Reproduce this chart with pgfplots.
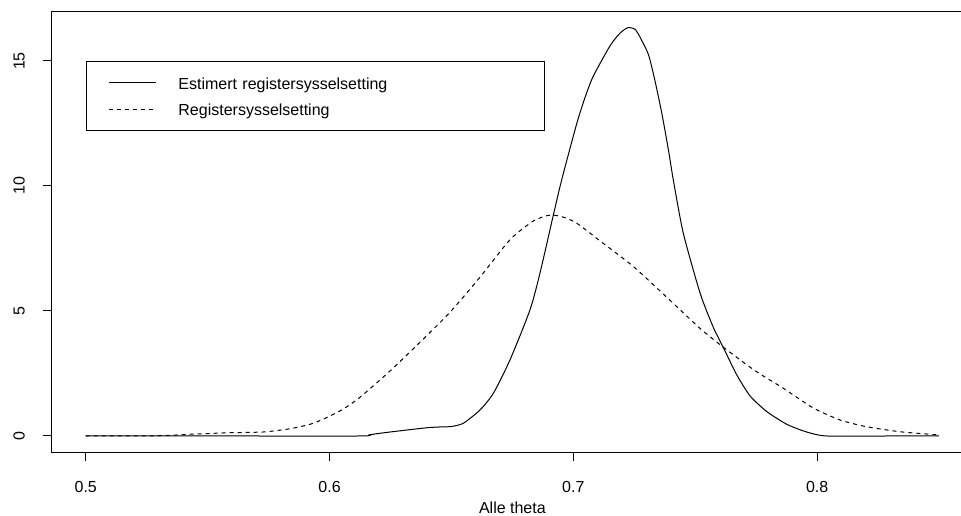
\documentclass[border=0pt]{standalone}
\usepackage{fontspec}
\setmainfont{Liberation Sans}
\usepackage{pgfplots}
\pgfplotsset{compat=1.18}

\begin{document}
\fontsize{12}{14.4}\selectfont
\begin{tikzpicture}
\begin{axis}[
  name=ax,
  scale only axis,
  width=691.2pt, height=331.0pt,
  xmin=0.486, xmax=0.864,
  ymin=-0.654, ymax=17.0,
  axis line style={line width=0.75pt},
  every tick/.style={line width=0.75pt, black},
  tick align=outside,
  major tick length=6.75pt,
  xtick pos=lower, ytick pos=left,
  xtick={0.5,0.6,0.7,0.8}, xticklabels={0.5,0.6,0.7,0.8},
  ytick={0,5,10,15}, yticklabels={0,5,10,15},
  xticklabel style={anchor=base, yshift=-23.25pt},
  yticklabel style={xshift=-13.5pt, rotate=90, anchor=base},
  xlabel={Alle theta},
  xlabel style={at={(axis description cs:0.5,0)}, anchor=base, yshift=-45.5pt},
  legend style={at={(axis cs:0.5,15)}, anchor=north west, draw=black,
    line width=0.75pt, inner xsep=16.7pt, inner ysep=10pt,
    row sep=8pt, column sep=16.7pt,
    nodes={inner sep=0pt, text height=10.7pt, text depth=1.3pt, text width=257.7pt, align=left},
    cells={anchor=base west}},
  legend image code/.code={
    \draw[#1] (0pt,5pt) -- (35pt,5pt);
  },
]
% estimert (heltrukken)
\addplot[black, line width=0.75pt, smooth, tension=0.4] coordinates {
(0.500,0) (0.560,0) (0.6125,0) (0.616,0.04) (0.620,0.10) (0.630,0.22)
(0.640,0.33) (0.645,0.36) (0.650,0.38) (0.6549,0.51) (0.6617,1.04)
(0.6672,1.71) (0.6740,3.04)
(0.6822,5.04) (0.6863,6.51) (0.6918,8.84) (0.6952,10.24) (0.7014,12.50)
(0.7050,13.60) (0.7082,14.40) (0.7150,15.60) (0.7190,16.10) (0.7223,16.33)
(0.7255,16.25) (0.7287,15.70) (0.7310,15.20) (0.7335,14.20) (0.7363,12.90)
(0.7390,11.44) (0.7410,10.24) (0.7451,8.11) (0.7520,5.71) (0.7574,4.35)
(0.7622,3.40) (0.7670,2.45) (0.7725,1.60) (0.7793,0.98) (0.7875,0.47)
(0.7957,0.16) (0.8040,0) (0.830,0) (0.850,0)};
\addlegendentry{Estimert registersysselsetting}
% register (stiplet)
\addplot[black, line width=0.75pt, dash pattern=on 3pt off 3pt, smooth, tension=0.4] coordinates {
(0.500,0) (0.530,0.01) (0.5428,0.07) (0.5592,0.13) (0.5729,0.16)
(0.5824,0.27) (0.5879,0.37) (0.5934,0.51) (0.6002,0.80) (0.6060,1.10)
(0.6125,1.55) (0.6248,2.60) (0.6371,3.75) (0.6494,4.95) (0.6617,6.35)
(0.6740,7.85) (0.6836,8.60) (0.6905,8.84) (0.6960,8.75) (0.7014,8.51)
(0.7110,7.80) (0.7246,6.78) (0.7383,5.55) (0.7520,4.30) (0.7622,3.50)
(0.7725,2.75) (0.7779,2.40) (0.7861,1.91) (0.7984,1.12) (0.8094,0.64)
(0.8203,0.37) (0.8340,0.17) (0.8500,0.04)};
\addlegendentry{Registersysselsetting}
\end{axis}
\pgfresetboundingbox
\path[use as bounding box] ([xshift=-38.7pt,yshift=-47.0pt]ax.south west)
  rectangle ([xshift=682.05pt,yshift=8.25pt]ax.north west);
\end{tikzpicture}
\end{document}
